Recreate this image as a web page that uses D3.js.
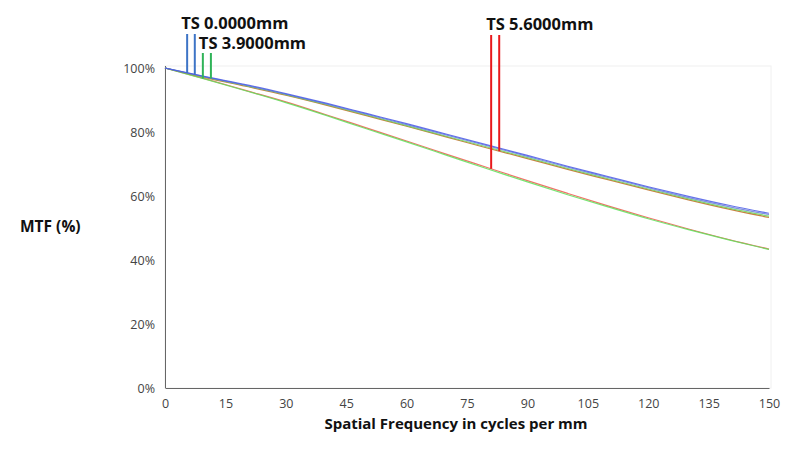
<!DOCTYPE html>
<html>
<head>
<meta charset="utf-8">
<script src="https://cdn.jsdelivr.net/npm/d3@7"></script>
<style>
  body { margin: 0; background: #fff; }
  text { font-family: "Open Sans", "Noto Sans", sans-serif; }
</style>
</head>
<body>
<div id="chart"></div>
<script>
// spatial frequency samples (cycles per mm)
var freqs = [0, 10, 20, 30, 40, 50, 60, 70, 80, 90, 100, 110, 120, 130, 140, 150];

// MTF values in %
var ts0S = [100, 97.3, 94.8, 92.0, 89.0, 85.8, 82.6, 79.3, 76.0, 72.7, 69.3, 66.1, 62.9, 59.9, 57.1, 54.6];
var ts0T = [100, 97.2, 94.6, 91.8, 88.8, 85.6, 82.3, 79.0, 75.7, 72.4, 69.0, 65.8, 62.6, 59.5, 56.7, 54.2];
var ts39S = [100, 97.1, 94.5, 91.7, 88.6, 85.3, 82.0, 78.6, 75.3, 72.0, 68.6, 65.4, 62.2, 59.1, 56.2, 53.7];
var ts39T = [100, 96.5, 92.9, 89.2, 85.2, 81.0, 76.9, 72.7, 68.5, 64.4, 60.4, 56.6, 52.9, 49.5, 46.3, 43.3];
var ts56S = [100, 97.0, 94.3, 91.5, 88.4, 85.1, 81.8, 78.4, 75.0, 71.7, 68.3, 65.1, 61.9, 58.8, 55.9, 53.3];
var ts56T = [100, 96.6, 93.0, 89.4, 85.4, 81.3, 77.2, 73.0, 68.9, 64.8, 60.8, 56.9, 53.2, 49.7, 46.4, 43.4];

var yTicks = [0, 20, 40, 60, 80, 100];
var xTicks = [0, 15, 30, 45, 60, 75, 90, 105, 120, 135, 150];

var series = [
  { name: 'ts56T', values: ts56T, color: '#ec5a4e' },
  { name: 'ts39T', values: ts39T, color: '#5fe05a' },
  { name: 'ts56S', values: ts56S, color: '#c06a20' },
  { name: 'ts39S', values: ts39S, color: '#6bd35a' },
  { name: 'ts0T', values: ts0T, color: '#6a7fd8' },
  { name: 'ts0S', values: ts0S, color: '#4a5be6' }
];

// field markers: label, colour, frequencies of the two ticks, which curves they drop to
var markers = [
  { label: 'TS 0.0000mm', color: '#3d74c6', at: [5.5, 7.4], curves: [ts0T, ts0S], lineTop: 34, labelDx: -6, labelY: 29 },
  { label: 'TS 3.9000mm', color: '#2fb358', at: [9.4, 11.4], curves: [ts39T, ts39S], lineTop: 53, labelDx: -4, labelY: 49 },
  { label: 'TS 5.6000mm', color: '#e8191c', at: [81, 83], curves: [ts56T, ts56S], lineTop: 35, labelDx: -5, labelY: 30 }
];

var W = 800, H = 450;
var plotLeft = 165, plotRight = 769, plotTop = 68, plotBottom = 388;

var svg = d3.select('#chart').append('svg')
  .attr('width', W)
  .attr('height', H);

var x = d3.scaleLinear().domain([0, 150]).range([plotLeft, plotRight]);
var y = d3.scaleLinear().domain([0, 100]).range([plotBottom, plotTop]);

// faint plot frame
svg.append('rect')
  .attr('x', plotLeft).attr('y', plotTop - 2)
  .attr('width', plotRight - plotLeft + 2).attr('height', plotBottom - plotTop + 2)
  .attr('fill', 'none')
  .attr('stroke', '#f0f0f0');

var yAxis = svg.append('g')
  .attr('transform', 'translate(' + plotLeft + ',0)')
  .call(d3.axisLeft(y).tickValues(yTicks).tickSize(0).tickPadding(10).tickFormat(function(d) { return d + '%'; }));
yAxis.select('.domain').attr('stroke', '#666').attr('d', 'M0.5,' + (plotTop - 2) + 'V' + plotBottom);
yAxis.selectAll('text').attr('font-size', 12.5).attr('fill', '#444');

var xAxis = svg.append('g')
  .attr('transform', 'translate(0,' + plotBottom + ')')
  .call(d3.axisBottom(x).tickValues(xTicks).tickSize(0).tickPadding(11));
xAxis.select('.domain').attr('stroke', '#666');
xAxis.selectAll('text').attr('font-size', 12.5).attr('fill', '#444');

var line = d3.line()
  .x(function(d, i) { return x(freqs[i]); })
  .y(function(d) { return y(d); })
  .curve(d3.curveMonotoneX);

svg.selectAll('path.mtf')
  .data(series)
  .enter().append('path')
  .attr('class', 'mtf')
  .attr('fill', 'none')
  .attr('stroke', function(d) { return d.color; })
  .attr('stroke-width', 1.2)
  .attr('stroke-opacity', 0.85)
  .attr('d', function(d) { return line(d.values); });

function valueAt(values, f) {
  var i = d3.bisectRight(freqs, f) - 1;
  i = Math.max(0, Math.min(freqs.length - 2, i));
  var t = (f - freqs[i]) / (freqs[i + 1] - freqs[i]);
  return values[i] + t * (values[i + 1] - values[i]);
}

markers.forEach(function(m) {
  m.at.forEach(function(f, k) {
    svg.append('line')
      .attr('x1', x(f)).attr('x2', x(f))
      .attr('y1', m.lineTop)
      .attr('y2', y(valueAt(m.curves[k], f)))
      .attr('stroke', m.color)
      .attr('stroke-width', 2);
  });
  svg.append('text')
    .attr('x', x(m.at[0]) + m.labelDx)
    .attr('y', m.labelY)
    .attr('font-size', 16.5)
    .attr('font-weight', 'bold')
    .attr('fill', '#111')
    .text(m.label);
});

svg.append('text')
  .attr('x', 20).attr('y', 232)
  .attr('font-size', 15.5)
  .attr('font-weight', 'bold')
  .attr('fill', '#111')
  .text('MTF (%)');

svg.append('text')
  .attr('x', (plotLeft + plotRight) / 2 - 11).attr('y', 429)
  .attr('text-anchor', 'middle')
  .attr('font-size', 15)
  .attr('font-weight', 'bold')
  .attr('fill', '#111')
  .text('Spatial Frequency in cycles per mm');
</script>
</body>
</html>
